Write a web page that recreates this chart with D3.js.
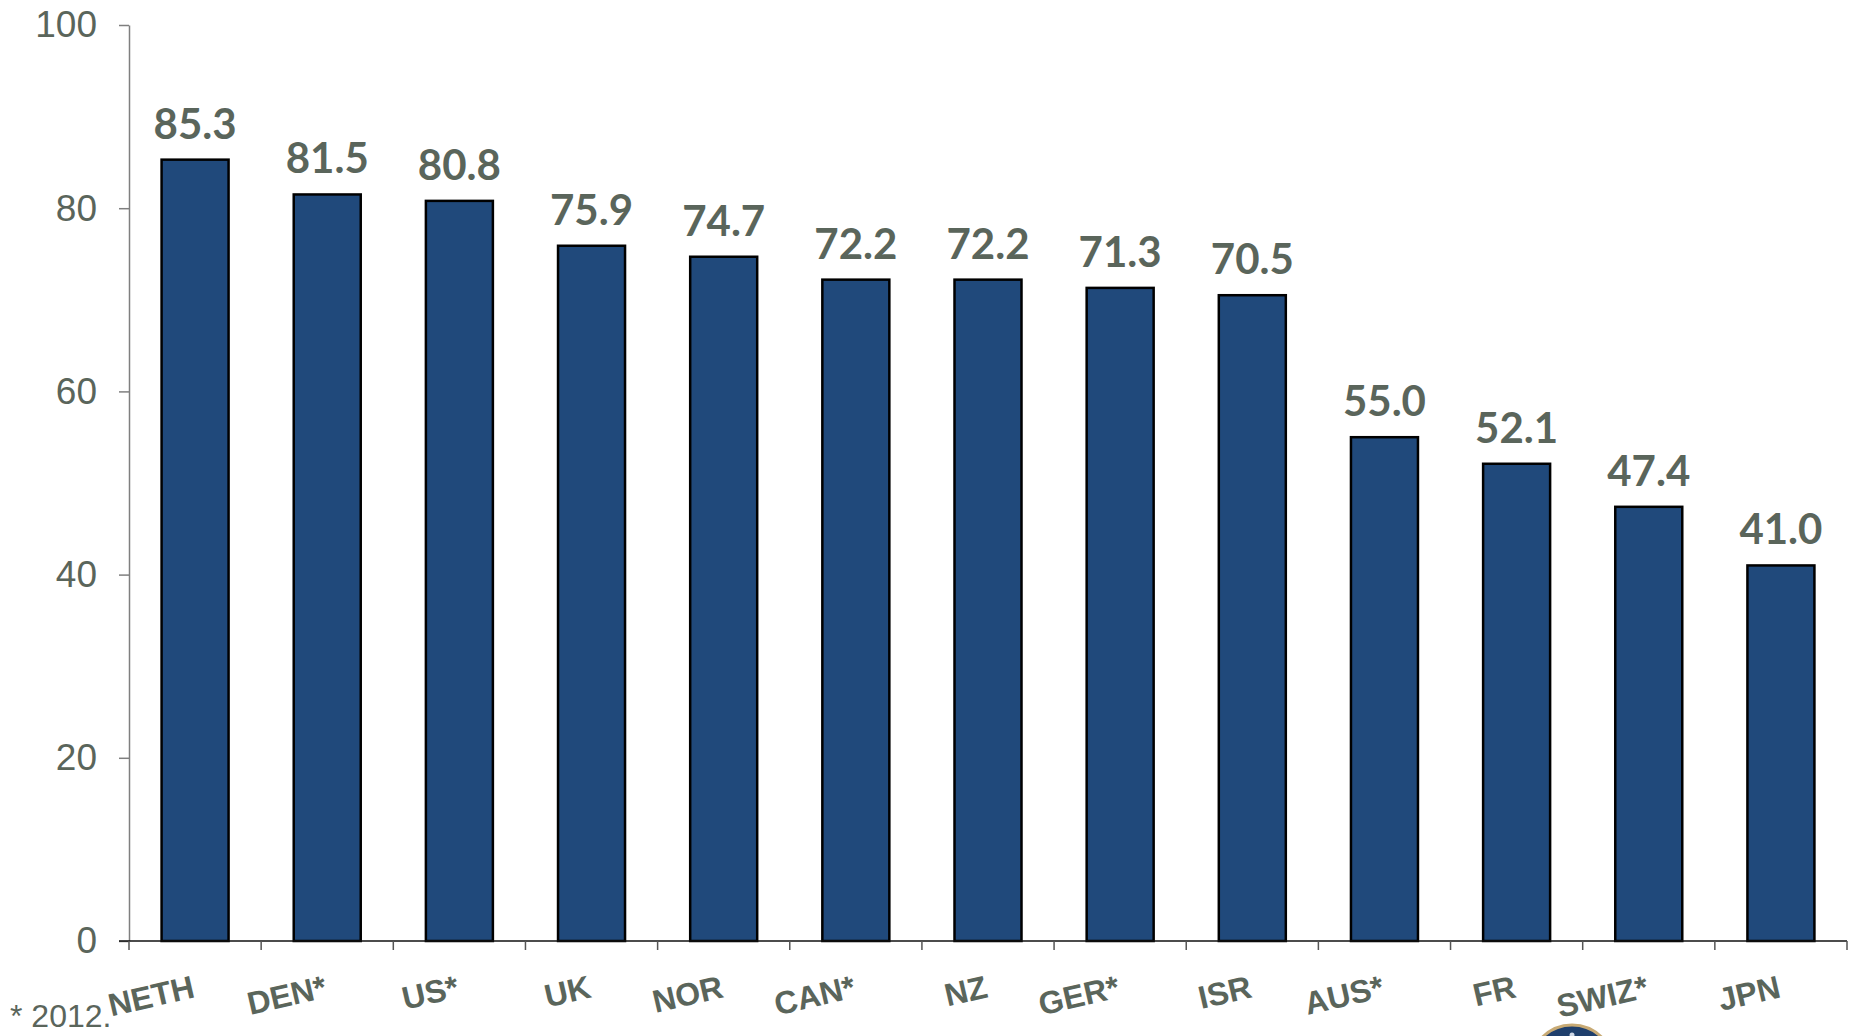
<!DOCTYPE html>
<html>
<head>
<meta charset="utf-8">
<script src="https://cdn.jsdelivr.net/npm/d3@7"></script>
<style>
  html, body { margin: 0; padding: 0; background: #fff; }
  svg { display: block; }
</style>
</head>
<body>
<div id="chart"></div>
<script>
// data
const countries = ["NETH", "DEN*", "US*", "UK", "NOR", "CAN*", "NZ", "GER*", "ISR", "AUS*", "FR", "SWIZ*", "JPN"];
const values = [85.3, 81.5, 80.8, 75.9, 74.7, 72.2, 72.2, 71.3, 70.5, 55.0, 52.1, 47.4, 41.0];
const yTicks = [0, 20, 40, 60, 80, 100];
const footnote = "* 2012.";

const width = 1860, height = 1036;
const textColor = "#5a655b";
const barColor = "#20497b";

const svg = d3.select("#chart")
    .append("svg")
    .attr("width", width)
    .attr("height", height)
    .attr("viewBox", [0, 0, width, height]);

const y = d3.scaleLinear([0, 100], [941, 25]);
const x = d3.scaleBand(countries, [129, 1847])
    .paddingInner(0.493)
    .paddingOuter(0.2465);

// y axis
svg.append("g")
    .attr("transform", "translate(129,0)")
    .call(d3.axisLeft(y).tickValues(yTicks).tickSize(10).tickSizeOuter(0).tickPadding(22))
    .call(g => g.select(".domain").attr("stroke", "#7f7f7f").attr("stroke-width", 1.5))
    .call(g => g.selectAll(".tick line").attr("stroke", "#7f7f7f").attr("stroke-width", 1.5))
    .call(g => g.selectAll(".tick text")
        .attr("fill", textColor)
        .style("font-family", "'Liberation Sans', Arial, sans-serif")
        .style("font-size", "37px"));

// bars
svg.append("g")
    .selectAll("rect")
    .data(values)
    .join("rect")
    .attr("x", (d, i) => x(countries[i]))
    .attr("y", d => y(d))
    .attr("width", x.bandwidth())
    .attr("height", d => y(0) - y(d))
    .attr("fill", barColor)
    .attr("stroke", "#000")
    .attr("stroke-width", 2.5);

// x axis line + boundary ticks
const gap = (x.step() - x.bandwidth()) / 2;
const bounds = countries.map(c => x(c) - gap).concat([x.range()[1]]);
const xAxis = svg.append("g");
xAxis.append("line")
    .attr("x1", 119).attr("x2", x.range()[1])
    .attr("y1", y(0)).attr("y2", y(0))
    .attr("stroke", "#111").attr("stroke-width", 1.5);
xAxis.selectAll(".tk")
    .data(bounds)
    .join("line")
    .attr("class", "tk")
    .attr("x1", d => d).attr("x2", d => d)
    .attr("y1", y(0)).attr("y2", y(0) + 9)
    .attr("stroke", "#555").attr("stroke-width", 1.5);

// category labels, slanted
svg.append("g")
    .selectAll("text")
    .data(countries)
    .join("text")
    .attr("transform", d => `translate(${x(d) + x.bandwidth() / 2 + 1},997) rotate(-13)`)
    .attr("text-anchor", "end")
    .attr("fill", textColor)
    .style("font-family", "'Liberation Sans', Arial, sans-serif")
    .style("font-weight", "bold")
    .style("font-size", "32px")
    .text(d => d);

// value labels
svg.append("g")
    .selectAll("text")
    .data(values)
    .join("text")
    .attr("x", (d, i) => x(countries[i]) + x.bandwidth() / 2)
    .attr("y", d => y(d) - 21)
    .attr("text-anchor", "middle")
    .attr("fill", textColor)
    .style("font-family", "Lato, sans-serif")
    .style("font-weight", "bold")
    .style("font-size", "42px")
    .text(d => d.toFixed(1));

// footnote
svg.append("text")
    .attr("x", 10)
    .attr("y", 1027)
    .attr("fill", textColor)
    .style("font-family", "'Liberation Sans', Arial, sans-serif")
    .style("font-size", "32px")
    .text(footnote);

// partially visible seal at bottom edge
const seal = svg.append("g").attr("transform", "translate(1572,1067)");
seal.append("circle").attr("r", 42).attr("fill", "#1f3f6c").attr("stroke", "#c8aa74").attr("stroke-width", 3);
seal.append("circle").attr("cy", -32).attr("r", 2.5).attr("fill", "#cfd8e6");
</script>
</body>
</html>
